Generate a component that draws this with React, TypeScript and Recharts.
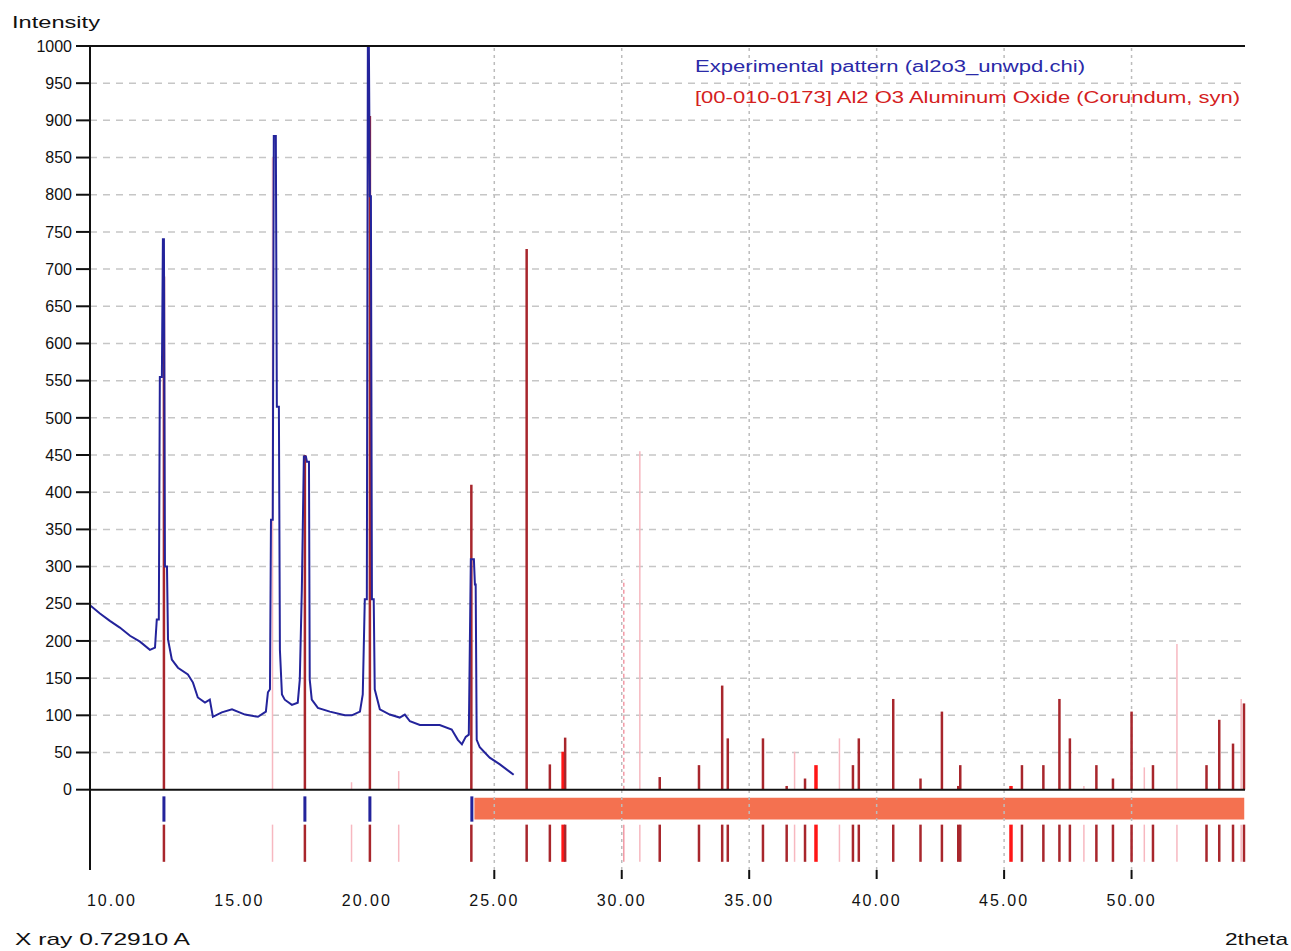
import { ComposedChart, Line, XAxis, YAxis, ReferenceLine, ReferenceArea } from "recharts";

const FONT = '"Liberation Sans", Arial, sans-serif';

// axes
const thetaTicks = [10, 15, 20, 25, 30, 35, 40, 45, 50];
const intensityTicks = [
  0, 50, 100, 150, 200, 250, 300, 350, 400, 450, 500, 550, 600, 650, 700, 750, 800, 850, 900, 950, 1000
];
const gridIntensity = [50, 100, 150, 200, 250, 300, 350, 400, 450, 500, 550, 600, 650, 700, 750, 800, 850, 900, 950];
const gridTheta = [25, 30, 35, 40, 45, 50];

// experimental pattern (blue)
const expTheta = [
  9.14, 9.53, 9.92, 10.31, 10.71, 11.1, 11.49, 11.69, 11.76, 11.84, 11.88, 11.96, 12.0, 12.04, 12.08, 12.16,
  12.2, 12.35, 12.59, 12.98, 13.18, 13.37, 13.65, 13.84, 13.96, 14.31, 14.71, 15.22, 15.73, 16.04, 16.12, 16.2,
  16.24, 16.31, 16.35, 16.43, 16.47, 16.55, 16.59, 16.67, 16.78, 17.06, 17.29, 17.37, 17.45, 17.53, 17.61, 17.65,
  17.73, 17.76, 17.84, 18.08, 18.55, 19.14, 19.41, 19.73, 19.84, 19.92, 20.0, 20.04, 20.08, 20.12, 20.16, 20.2,
  20.27, 20.31, 20.51, 20.9, 21.29, 21.49, 21.69, 22.08, 22.86, 23.33, 23.57, 23.73, 23.88, 24.0, 24.08, 24.2,
  24.24, 24.27, 24.31, 24.43, 24.82, 25.22, 25.61, 25.76
];
const expIntensity = [
  248, 237, 227, 218, 207, 199, 188, 191, 229, 229, 555, 555, 740, 740, 300, 300,
  202, 175, 164, 155, 144, 124, 117, 121, 98, 104, 108, 101, 98, 105, 131, 135,
  363, 363, 879, 879, 515, 515, 188, 128, 121, 114, 117, 148, 269, 448, 448, 441,
  441, 148, 121, 110, 105, 100, 100, 105, 128, 256, 256, 1000, 1000, 798, 798, 256,
  256, 135, 108, 101, 97, 101, 92, 87, 87, 81, 67, 61, 71, 74, 310, 310,
  276, 276, 67, 57, 43, 34, 24, 20
];
const expPeaks = [12.04, 17.57, 20.12, 24.12];
const fittedRange = [24.22, 54.42];

// reference pattern [00-010-0173] corundum
const refTheta = [
  12.04, 16.3, 17.57, 19.4, 20.12, 21.25, 24.1, 26.27, 27.18, 27.7, 27.78, 30.08, 30.71, 31.49, 33.03, 33.94,
  34.16, 35.54, 36.47, 36.78, 37.19, 37.62, 38.54, 39.07, 39.3, 40.65, 41.72, 42.56, 43.2, 43.28, 45.27, 45.7,
  46.54, 47.17, 47.58, 48.13, 48.62, 49.27, 50.0, 50.5, 50.84, 51.78, 52.94, 53.44, 53.98, 54.3, 54.41
];
const refIntensity = [
  690, 850, 450, 10, 906, 25, 410, 727, 34, 51, 70, 283, 455, 17, 33, 140,
  69, 69, 5, 51, 15, 33, 69, 33, 69, 122, 15, 105, 5, 33, 5, 33,
  33, 122, 69, 5, 33, 15, 105, 30, 33, 196, 33, 94, 62, 122, 116
];
// d = dark red, r = bright red, p = light pink, q = light pink dashed
const refKind = [
  "d", "p", "d", "p", "d", "p", "d", "d", "d", "r", "d", "q", "p", "d", "d", "d",
  "d", "d", "d", "p", "d", "r", "p", "d", "d", "d", "d", "d", "d", "d", "r", "d",
  "d", "d", "d", "p", "d", "d", "d", "p", "d", "p", "d", "d", "d", "p", "d"
];

const stickColor: Record<string, string> = { d: "#a8262c", r: "#ff1616", p: "#f7b8c0", q: "#f29aa6" };
const stickWidth: Record<string, number> = { d: 2.5, r: 3.5, p: 1.5, q: 1.5 };

const expData = expTheta.map((x, i) => ({ x, y: expIntensity[i] }));
const refData = refTheta.map((x, i) => ({ x, y: refIntensity[i], kind: refKind[i] }));

const ThetaTick = (props: any) => {
  const { x, y, payload } = props;
  return (
    <g>
      {payload.value >= 25 && <line x1={x} x2={x} y1={y - 25} y2={y - 16} stroke="#111" strokeWidth={2} />}
      <text x={x} y={y} dy="0.71em" textAnchor="middle" fontSize={16} letterSpacing={2} fill="#111" fontFamily={FONT}>
        {payload.value.toFixed(2)}
      </text>
    </g>
  );
};

export default function App() {
  return (
    <div style={{ position: "absolute", left: 0, top: 0, width: 1291, height: 951, background: "#fff" }}>
      <ComposedChart width={1291} height={951} margin={{ top: 46, right: 46, bottom: 31, left: 0 }}>
        <XAxis
          type="number"
          dataKey="x"
          domain={[9.14, 54.45]}
          ticks={thetaTicks}
          interval={0}
          allowDataOverflow
          axisLine={false}
          tickLine={false}
          tickSize={8}
          tickMargin={17}
          height={50}
          tick={<ThetaTick />}
        />
        <YAxis
          type="number"
          domain={[-108, 1000]}
          ticks={intensityTicks}
          interval={0}
          allowDataOverflow
          width={90}
          tickSize={14}
          tickMargin={4}
          axisLine={{ stroke: "#111", strokeWidth: 2 }}
          tickLine={{ stroke: "#111", strokeWidth: 2 }}
          tick={{ fill: "#111", fontSize: 16, fontFamily: FONT }}
        />
        {gridIntensity.map((v) => (
          <ReferenceLine key={`gy${v}`} y={v} stroke="#c6c6c6" strokeDasharray="7 6" strokeWidth={1.5} />
        ))}
        {gridTheta.map((v) => (
          <ReferenceLine key={`gx${v}`} x={v} stroke="#bcbcbc" strokeDasharray="3 4" strokeWidth={1.5} />
        ))}
        <ReferenceArea
          x1={fittedRange[0]}
          x2={fittedRange[1]}
          y1={-40}
          y2={-11}
          fill="#f47150"
          fillOpacity={1}
          stroke="none"
        />
        {refData.map((d, i) => (
          <ReferenceLine
            key={`rs${i}`}
            segment={[{ x: d.x, y: 0 }, { x: d.x, y: d.y }]}
            stroke={stickColor[d.kind]}
            strokeWidth={stickWidth[d.kind]}
            strokeDasharray={d.kind === "q" ? "4 3" : undefined}
          />
        ))}
        {refData.map((d, i) => (
          <ReferenceLine
            key={`rb${i}`}
            segment={[{ x: d.x, y: -47 }, { x: d.x, y: -97 }]}
            stroke={stickColor[d.kind]}
            strokeWidth={stickWidth[d.kind]}
          />
        ))}
        {expPeaks.map((p) => (
          <ReferenceLine key={`ep${p}`} segment={[{ x: p, y: -9 }, { x: p, y: -43 }]} stroke="#23239b" strokeWidth={3} />
        ))}
        <Line
          data={expData}
          dataKey="y"
          type="linear"
          stroke="#23239b"
          strokeWidth={2}
          dot={false}
          isAnimationActive={false}
        />
        <ReferenceLine y={0} stroke="#111" strokeWidth={2} />
        <ReferenceLine y={1000} stroke="#111" strokeWidth={2} />
      </ComposedChart>
      <svg
        width={1291}
        height={951}
        style={{ position: "absolute", left: 0, top: 0, pointerEvents: "none" }}
        fontFamily={FONT}
      >
        <text x={12} y={28} fontSize={17} fill="#111" textLength={88} lengthAdjust="spacingAndGlyphs">
          Intensity
        </text>
        <text x={695} y={72} fontSize={16} fill="#2a2aa8" textLength={390} lengthAdjust="spacingAndGlyphs">
          Experimental pattern (al2o3_unwpd.chi)
        </text>
        <text x={695} y={103} fontSize={16} fill="#d42020" textLength={545} lengthAdjust="spacingAndGlyphs">
          [00-010-0173] Al2 O3 Aluminum Oxide (Corundum, syn)
        </text>
        <text x={15} y={945} fontSize={17} fill="#111" textLength={175} lengthAdjust="spacingAndGlyphs">
          X ray 0.72910 A
        </text>
        <text x={1225} y={945} fontSize={17} fill="#111" textLength={63} lengthAdjust="spacingAndGlyphs">
          2theta
        </text>
      </svg>
    </div>
  );
}
